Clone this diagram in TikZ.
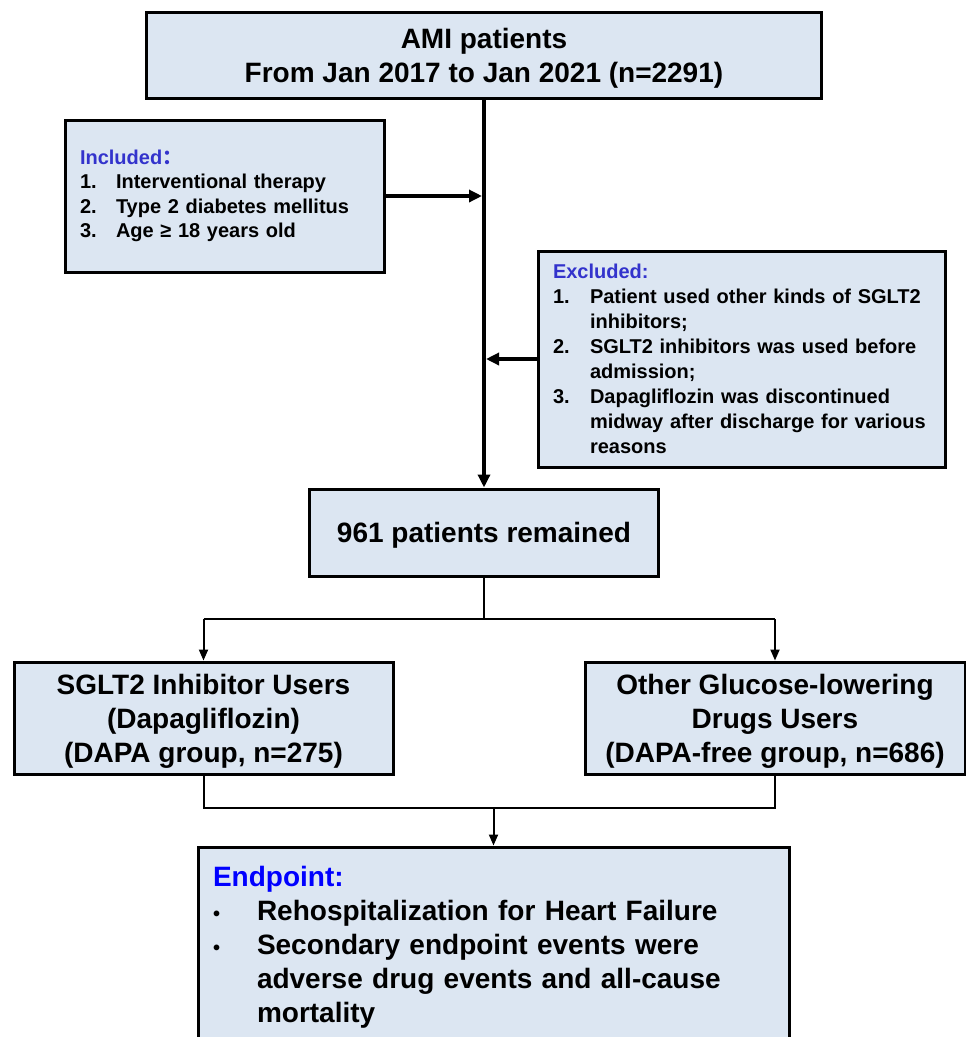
\documentclass[tikz,border=0pt]{standalone}
\usepackage{fontspec}
\setmainfont{Liberation Sans}
\newfontfamily\cjkfont{Noto Sans CJK SC}
\usetikzlibrary{arrows.meta}
\definecolor{boxfill}{RGB}{220,230,242}
\definecolor{inblue}{RGB}{51,51,204}
\definecolor{epblue}{RGB}{0,0,255}
\tikzset{
  box/.style={draw=black, fill=boxfill, line width=3pt, rectangle, inner sep=0pt, font=\bfseries},
  big/.style={font=\bfseries\fontsize{28}{34}\selectfont, align=center, text depth=0pt},
  thick line/.style={line width=4pt},
  thin line/.style={line width=2pt},
  bigtip/.style={-{Triangle[length=13pt,width=12pt]}},
  smalltip/.style={-{Triangle[length=11pt,width=9pt]}}
}
\newcommand{\lbl}[2]{\makebox[#1][l]{#2}}
\newcommand{\smallbullet}{{\fontsize{20}{20}\selectfont •}}
\begin{document}
\begin{tikzpicture}[x=1pt,y=-1pt]
\useasboundingbox (0,0) rectangle (966,1037);

\node[box, big, minimum width=675pt, minimum height=86pt] (top) at (484,55)
  {AMI patients\\From Jan 2017 to Jan 2021 (n=2291)};

\node[box, minimum width=319pt, minimum height=152pt, text width=289pt, align=left,
      font=\bfseries\fontsize{20}{24.5}\selectfont] (inc) at (224.5,196)
  {\textcolor{inblue}{Included{\cjkfont ：}}\\
   \lbl{36pt}{1.}Interventional therapy\\
   \lbl{36pt}{2.}Type 2 diabetes mellitus\\
   \lbl{36pt}{3.}Age ≥ 18 years old};

\node[box, minimum width=407pt, minimum height=216pt, text width=377pt, align=left,
      font=\bfseries\fontsize{20}{25}\selectfont] (exc) at (741.5,359)
  {\textcolor{inblue}{Excluded:}\\
   \lbl{37pt}{1.}Patient used other kinds of SGLT2\\
   \lbl{37pt}{}inhibitors;\\
   \lbl{37pt}{2.}SGLT2 inhibitors was used before\\
   \lbl{37pt}{}admission;\\
   \lbl{37pt}{3.}Dapagliflozin was discontinued\\
   \lbl{37pt}{}midway after discharge for various\\
   \lbl{37pt}{}reasons};

\node[box, big, minimum width=349pt, minimum height=87pt] (rem) at (484,532.5)
  {961 patients remained};

\node[box, big, minimum width=379pt, minimum height=112pt] (sg) at (203.5,718)
  {SGLT2 Inhibitor Users\\(Dapagliflozin)\\(DAPA group, n=275)};

\node[box, big, minimum width=380pt, minimum height=112pt] (ot) at (775,718)
  {Other Glucose-lowering\\Drugs Users\\(DAPA-free group, n=686)};

\node[box, minimum width=591pt, minimum height=200pt, text width=561pt, align=left,
      font=\bfseries\fontsize{28}{34}\selectfont] (ep) at (493.5,947)
  {\textcolor{epblue}{Endpoint:}\\
   \lbl{44pt}{\smallbullet}Rehospitalization for Heart Failure\\
   \lbl{44pt}{\smallbullet}Secondary endpoint events were\\
   \lbl{44pt}{}adverse drug events and all-cause\\
   \lbl{44pt}{}mortality};

% main flow
\draw[thick line, bigtip] (top.south) -- (rem.north);
\draw[thick line, bigtip] (inc.east) -- ([xshift=-2pt]inc.east -| top.south);
\draw[thick line, bigtip] (exc.west) -- ([xshift=2pt]exc.west -| top.south);

% split
\coordinate (split) at (484,619);
\coordinate (join) at (484,808);
\draw[thin line] (rem.south) -- (split);
\draw[thin line] (sg.north |- split) -- (ot.north |- split);
\draw[thin line, smalltip] (sg.north |- split) -- (sg.north);
\draw[thin line, smalltip] (ot.north |- split) -- (ot.north);

% join
\draw[thin line] (sg.south) -- (sg.south |- join) -- (ot.south |- join) -- (ot.south);
\draw[thin line, smalltip] (ep.north |- join) -- (ep.north);
\end{tikzpicture}
\end{document}
